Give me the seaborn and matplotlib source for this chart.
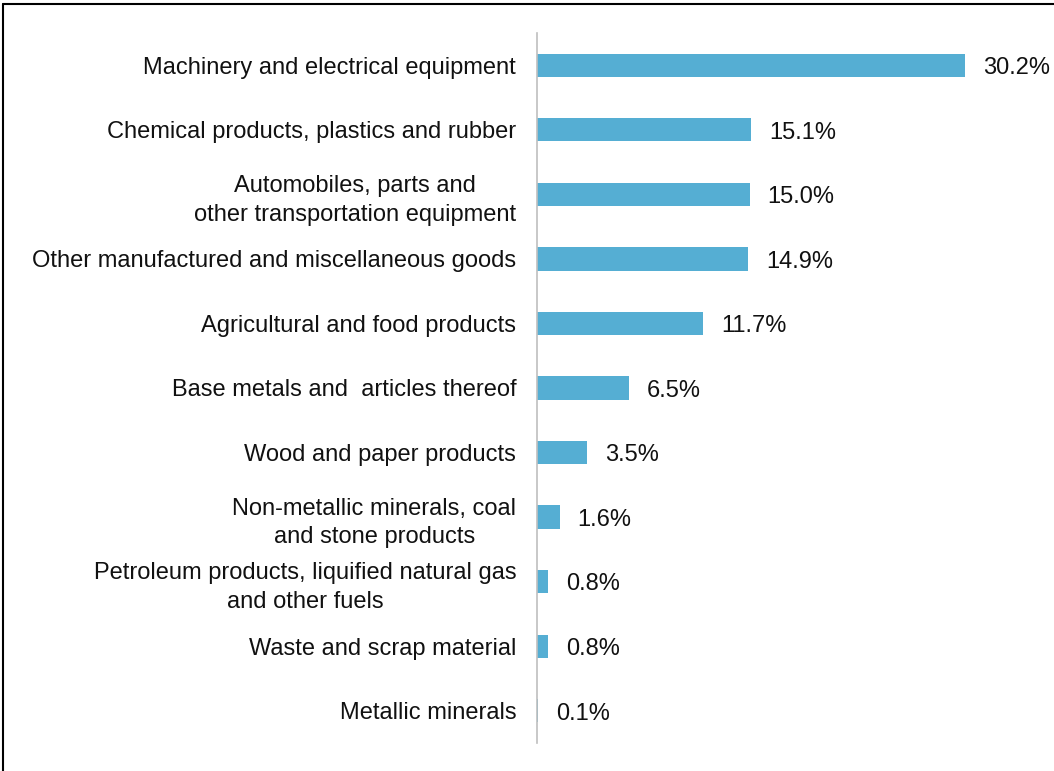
import matplotlib
matplotlib.use("Agg")
import matplotlib.pyplot as plt
import seaborn as sns
import pandas as pd
from matplotlib.lines import Line2D

categories = [
    "Machinery and electrical equipment",
    "Chemical products, plastics and rubber",
    "Automobiles, parts and\nother transportation equipment",
    "Other manufactured and miscellaneous goods",
    "Agricultural and food products",
    "Base metals and  articles thereof",
    "Wood and paper products",
    "Non-metallic minerals, coal\nand stone products",
    "Petroleum products, liquified natural gas\nand other fuels",
    "Waste and scrap material",
    "Metallic minerals",
]
values = [30.2, 15.1, 15.0, 14.9, 11.7, 6.5, 3.5, 1.6, 0.8, 0.8, 0.1]

sns.set_style("white")
plt.rcParams["font.family"] = ["Liberation Sans", "DejaVu Sans"]

df = pd.DataFrame({"category": categories, "value": values})

W, H = 1054, 771
fig = plt.figure(figsize=(W / 100, H / 100), dpi=100)
ax = fig.add_axes([537 / W, (H - 743) / H, 510 / W, 710 / H])

sns.barplot(data=df, x="value", y="category", orient="h", color="#55AED3",
            saturation=1, width=0.36, ax=ax, linewidth=0)

ax.set_xlim(0, 36)
ax.set_xlabel("")
ax.set_ylabel("")
ax.set_xticks([])
for s in ["top", "right", "bottom"]:
    ax.spines[s].set_visible(False)
ax.spines["left"].set_color("#BFBFBF")
ax.spines["left"].set_linewidth(1.2)
ax.tick_params(axis="y", length=0, pad=15, labelsize=17, labelcolor="#111111")
for t in ax.get_yticklabels():
    t.set_multialignment("center")
    t.set_linespacing(1.4)

for i, v in enumerate(values):
    ax.annotate(f"{v:.1f}%", xy=(v, i), xytext=(13, -2), textcoords="offset points",
                ha="left", va="center", fontsize=17, color="#111111",
                annotation_clip=False)

# frame border (top and left)
fig.add_artist(Line2D([3 / W, 1], [1 - 4 / H, 1 - 4 / H], transform=fig.transFigure,
                      color="black", linewidth=1.5))
fig.add_artist(Line2D([3 / W, 3 / W], [0, 1 - 4 / H], transform=fig.transFigure,
                      color="black", linewidth=1.5))

fig.savefig("out.png", dpi=100)
